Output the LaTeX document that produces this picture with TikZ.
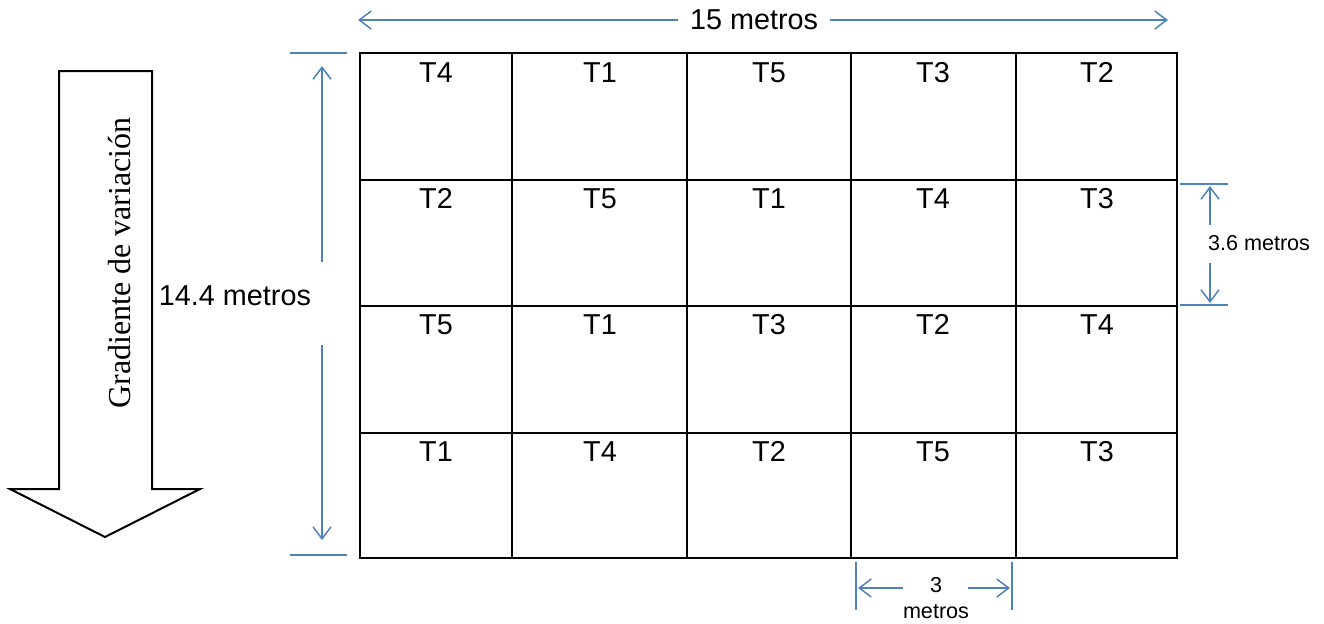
\documentclass[tikz,border=0pt]{standalone}
\usepackage{fontspec}
\setmainfont{Liberation Sans}
\newfontfamily\timesfont{Liberation Serif}
\usetikzlibrary{arrows.meta}
\definecolor{dimblue}{RGB}{79,129,189}
\tikzset{
  >={Straight Barb[length=6pt,width=9pt]},
  tr/.style={anchor=base,inner sep=0pt,font=\fontsize{14.4}{17}\selectfont},
  dm/.style={draw=dimblue,line width=0.75pt},
  dt/.style={inner sep=0pt,font=\fontsize{10.8}{13}\selectfont},
  every picture/.style={line width=1pt},
}
\begin{document}
\begin{tikzpicture}[x=0.5pt,y=-0.5pt]
\useasboundingbox (0,0) rectangle (1324,623);
% parcelas
\draw (360,53) rectangle (1177,558);
\draw (512,53)--(512,558); \draw (687,53)--(687,558); \draw (851,53)--(851,558); \draw (1016,53)--(1016,558);
\draw (360,180)--(1177,180); \draw (360,306)--(1177,306); \draw (360,433)--(1177,433);
\node[tr] (a1) at (436,82){T4}; \node[tr] (b1) at (600,82){T1}; \node[tr] (c1) at (769,82){T5}; \node[tr] (d1) at (933,82){T3}; \node[tr] (e1) at (1097,82){T2};
\node[tr] (a2) at (436,208){T2}; \node[tr] (b2) at (600,208){T5}; \node[tr] (c2) at (769,208){T1}; \node[tr] (d2) at (933,208){T4}; \node[tr] (e2) at (1097,208){T3};
\node[tr] (a3) at (436,334){T5}; \node[tr] (b3) at (600,334){T1}; \node[tr] (c3) at (769,334){T3}; \node[tr] (d3) at (933,334){T2}; \node[tr] (e3) at (1097,334){T4};
\node[tr] (a4) at (436,461){T1}; \node[tr] (b4) at (600,461){T4}; \node[tr] (c4) at (769,461){T2}; \node[tr] (d4) at (933,461){T5}; \node[tr] (e4) at (1097,461){T3};
% cotas
\coordinate (wl) at (358,20); \coordinate (wr) at (1168,20);
\draw[dm,<->] (wl)--node[pos=0.489,fill=white,inner xsep=6pt,inner ysep=0pt,font=\fontsize{14.4}{17}\selectfont]{15 metros}(wr);
\draw[dm] (290,53)--(347,53); \draw[dm] (290,555)--(347,555);
\node[inner sep=0pt,font=\fontsize{14.4}{17}\selectfont] (hl) at (235,296){14.4 metros};
\coordinate (hT) at (322,66); \coordinate (hU) at (322,262); \coordinate (hD) at (322,345); \coordinate (hB) at (322,540);
\draw[dm,->] (hU)--(hT); \draw[dm,->] (hD)--(hB);
\draw[dm] (1180,184)--(1228,184); \draw[dm] (1180,305)--(1228,305);
\node[dt,anchor=west] (rl) at (1207,243){3.6 metros};
\coordinate (rT) at (1210,186); \coordinate (rU) at (1210,225); \coordinate (rD) at (1210,263); \coordinate (rB) at (1210,303);
\draw[dm,->] (rU)--(rT); \draw[dm,->] (rD)--(rB);
\draw[dm] (856,562)--(856,610); \draw[dm] (1012,562)--(1012,610);
\node[dt,align=center] (bl) at (936,598){3\\metros};
\coordinate (bL) at (858,588); \coordinate (bU) at (903,588); \coordinate (bV) at (968,588); \coordinate (bR) at (1010,588);
\draw[dm,->] (bU)--(bL); \draw[dm,->] (bV)--(bR);
% gradiente
\draw (59,71)--(152,71)--(152,489)--(200,489)--(105,537)--(10,489)--(59,489)--cycle;
\node[rotate=90,inner sep=0pt,font=\timesfont\fontsize{16}{19}\selectfont] (gv) at (120,263){Gradiente de variación};
\end{tikzpicture}
\end{document}
